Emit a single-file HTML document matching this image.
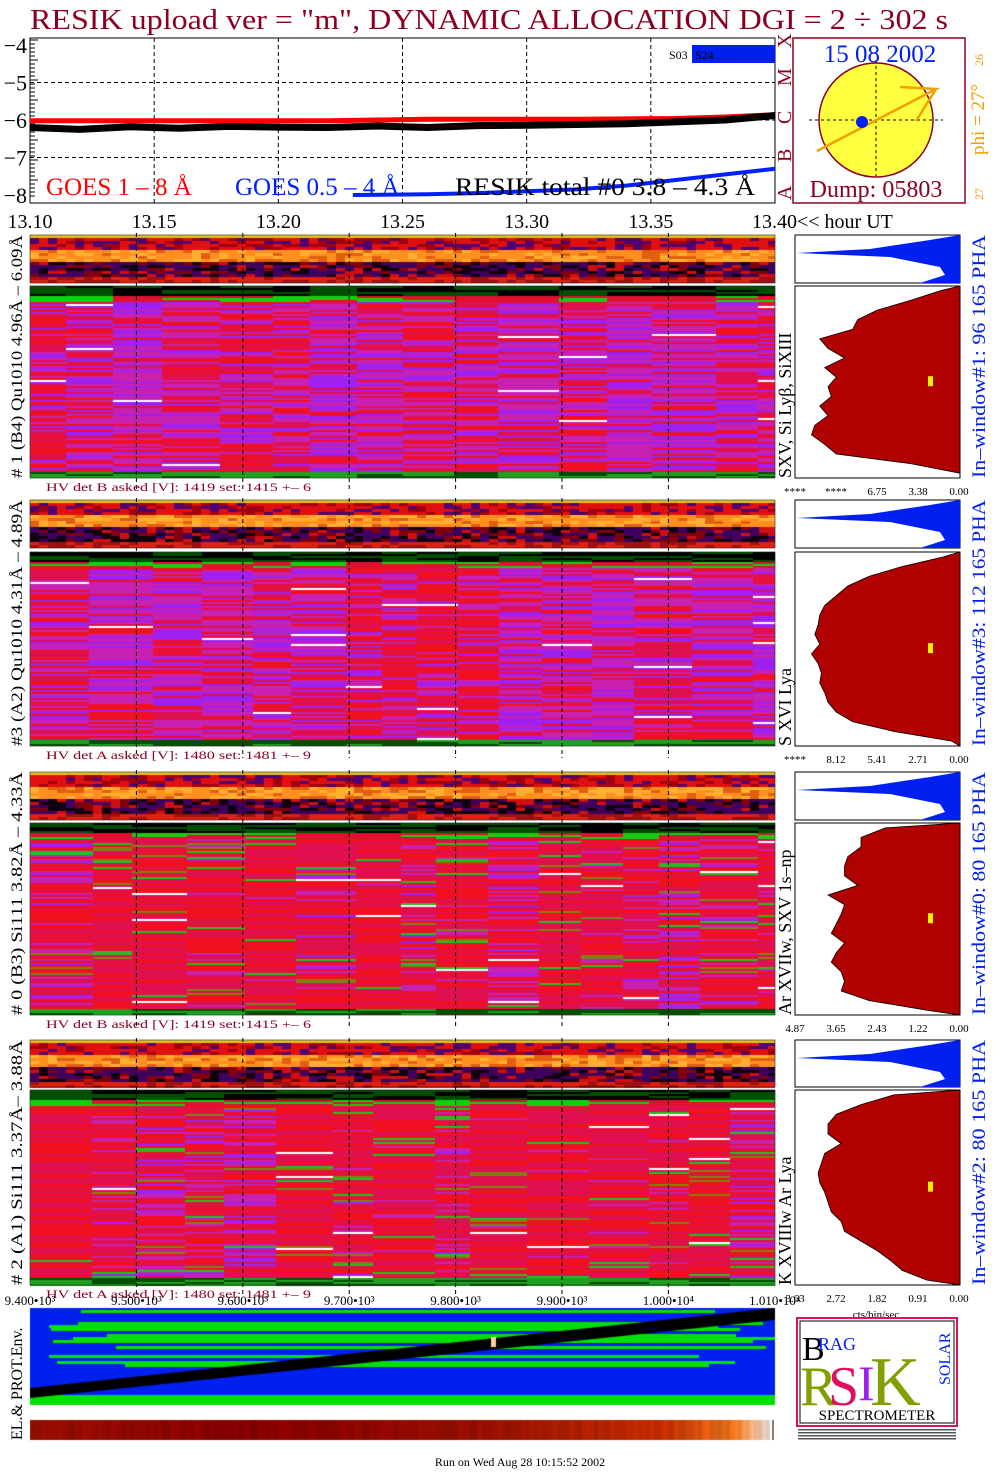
<!DOCTYPE html>
<html><head><meta charset="utf-8"><style>
html,body{margin:0;padding:0;background:#fff;}
#root{position:relative;width:1004px;height:1476px;overflow:hidden;font-family:"Liberation Serif",serif;}
canvas{position:absolute;left:0;top:0;}
svg{position:absolute;left:0;top:0;}
</style></head><body>
<div id="root">
<canvas id="tex" width="1004" height="1476"></canvas>
<svg id="ov" width="1004" height="1476" xmlns="http://www.w3.org/2000/svg"></svg>
</div>
<script>
// ---- chart data ----
const timeTicks = ["13.10","13.15","13.20","13.25","13.30","13.35","13.40"];
const yTicks = [-4,-5,-6,-7,-8];
const goesTimes = [13.10,13.12,13.14,13.16,13.18,13.20,13.22,13.24,13.26,13.28,13.30,13.32,13.34,13.36,13.38,13.40];
const goesLong = [-6.02,-6.02,-6.02,-6.02,-6.02,-6.02,-6.02,-6.0,-5.98,-5.98,-5.98,-5.98,-5.97,-5.96,-5.92,-5.86];
const resikTotal = [-6.2,-6.25,-6.18,-6.22,-6.17,-6.19,-6.2,-6.16,-6.2,-6.15,-6.14,-6.12,-6.1,-6.05,-6.0,-5.88];
const goesShortT = [13.23,13.26,13.28,13.30,13.32,13.34,13.36,13.38,13.40];
const goesShort = [-8.0,-7.98,-7.95,-7.9,-7.85,-7.75,-7.6,-7.45,-7.3];
const energyTicks = ["9.400•10³","9.500•10³","9.600•10³","9.700•10³","9.800•10³","9.900•10³","1.000•10⁴","1.010•10⁴"];
const phaProfiles = [
 [0.12,0.3,0.5,0.62,0.65,0.85,0.8,0.7,0.82,0.75,0.8,0.78,0.85,0.8,0.88,0.9,0.82,0.75,0.3,0.0],
 [0.1,0.35,0.55,0.68,0.75,0.82,0.85,0.86,0.88,0.85,0.9,0.86,0.84,0.85,0.82,0.8,0.75,0.65,0.4,0.05],
 [0.45,0.6,0.6,0.68,0.7,0.7,0.62,0.8,0.7,0.72,0.75,0.78,0.7,0.75,0.78,0.72,0.7,0.72,0.55,0.2],
 [0.4,0.6,0.75,0.8,0.8,0.72,0.82,0.84,0.86,0.85,0.82,0.8,0.78,0.72,0.7,0.6,0.5,0.42,0.35,0.2]
];
const phaTicks = [["****","****","6.75","3.38","0.00"],["****","8.12","5.41","2.71","0.00"],["4.87","3.65","2.43","1.22","0.00"],["3.63","2.72","1.82","0.91","0.00"]];

// ---- geometry ----
const X0=30,X1=775,T0=13.10,T1=13.40;
const xs=t=>X0+(t-T0)/(T1-T0)*(X1-X0);
const ys=v=>45+(-4-v)*37.5;
const panels=[
 {s:[235,283],m:[286,478],hv:"HV det B asked [V]:  1419 set:  1415  +–    6",left:"# 1 (B4) Qu1010 4.96Å – 6.09Å",rl:"SXV, Si Lyβ, SiXIII",win:"In–window#1:   96 165 PHA",red:false},
 {s:[500,548],m:[552,746],hv:"HV det A asked [V]:  1480 set:  1481  +–    9",left:"#3 (A2) Qu1010  4.31Å  – 4.89Å",rl:"S XVI Lya",win:"In–window#3:  112 165 PHA",red:false},
 {s:[772,820],m:[823,1015],hv:"HV det B asked [V]:  1419 set:  1415  +–    6",left:"# 0 (B3) Si111  3.82Å – 4.33Å",rl:"Ar XVIIw,  SXV 1s–np",win:"In–window#0:   80 165 PHA",red:true},
 {s:[1040,1087],m:[1090,1285],hv:"HV det A asked [V]:  1480 set:  1481  +–    9",left:"# 2 (A1) Si111  3.37Å– 3.88Å",rl:"K XVIIIw  Ar Lya",win:"In–window#2:   80 165 PHA",red:true}
];

// ---- textures (decorative, seeded) ----
const c=document.getElementById('tex').getContext('2d');
let seed=12345;const rnd=()=>{seed=(seed*16807)%2147483647;return seed/2147483647;};
function strip(y0,y1){
 const h=y1-y0;
 for(let x=X0;x<X1;x+=9){for(let y=y0;y<y1;y+=3){
  const f=(y-y0)/h;let col;
  const r=rnd();
  if(f<0.05) col='#e0c020';
  else if(f<0.3) col=r<0.5?'#e01010':r<0.75?'#a00010':'#500070';
  else if(f<0.55) col=r<0.5?'#ff9020':r<0.8?'#ffb030':'#e06010';
  else if(f<0.85) col=r<0.4?'#400060':r<0.65?'#100010':r<0.85?'#800010':'#d01010';
  else col=r<0.6?'#e02010':'#a01010';
  c.fillStyle=col;c.fillRect(x,y,Math.min(9,X1-x),3);}}
}
function main(y0,y1,red){
 let x=X0;
 while(x<X1){const w=Math.min(35+Math.floor(rnd()*30),X1-x);
  const mag=red?rnd()*0.4:0.3+rnd()*0.5;
  for(let y=y0;y<y1;y+=2){
   const f=(y-y0)/(y1-y0);let col;const r=rnd();
   if(f<0.05) col=r<0.5?'#000':'#005000';
   else if(f<0.08) col=r<0.5?'#10d010':'#e01030';
   else if(f>0.96) col=r<0.5?'#005000':'#20a020';
   else{
    if(r<0.012) col='#ffffff';
    else if(red&&r<0.07) col=rnd()<0.5?'#20c020':'#808010';
    else if(r<mag*0.45) col='#a020f0';
    else if(r<mag) col='#c820b0';
    else col=rnd()<0.5?'#f01020':'#e01050';
   }
   c.fillStyle=col;c.fillRect(x,y,w,2);}
  x+=w;}
}
panels.forEach(p=>{strip(p.s[0],p.s[1]);main(p.m[0],p.m[1],p.red);});
// EL panel
c.fillStyle='#0020f0';c.fillRect(X0,1308,X1-X0,97);
for(let y=1310;y<1365;y+=3){if(rnd()<0.55){const a=X0+Math.floor(rnd()*100);const b=X1-Math.floor(rnd()*100);c.fillStyle='#00e000';c.fillRect(a,y,b-a,3);}}
c.fillStyle='#00e000';c.fillRect(X0,1395,X1-X0,10);
c.fillStyle='#000';c.beginPath();c.moveTo(X0,1388);c.lineTo(X1,1308);c.lineTo(X1,1320);c.lineTo(X0,1398);c.fill();
c.fillStyle='#ffd0a0';c.fillRect(491,1337,5,10);
const g=c.createLinearGradient(X0,0,773,0);
g.addColorStop(0,'#a01000');g.addColorStop(0.3,'#900000');g.addColorStop(0.6,'#a01000');g.addColorStop(0.85,'#d03000');g.addColorStop(0.95,'#ff8020');g.addColorStop(1,'#fff');
c.fillStyle=g;c.fillRect(X0,1420,743,20);
for(let x=X0;x<770;x+=4){c.fillStyle='rgba(0,0,0,'+(rnd()*0.15)+')';c.fillRect(x,1420,4,20);}

// ---- overlay SVG ----
const NS='http://www.w3.org/2000/svg';const svg=document.getElementById('ov');
function el(tag,attrs,parent,text){const e=document.createElementNS(NS,tag);for(const k in attrs)e.setAttribute(k,attrs[k]);if(text!==undefined)e.textContent=text;(parent||svg).appendChild(e);return e;}
let t;
t=el('text',{x:30,y:29,'font-size':29,fill:'#8b0020',textLength:918,lengthAdjust:'spacingAndGlyphs'},svg,'RESIK upload ver = "m", DYNAMIC ALLOCATION  DGI =   2 ÷ 302 s');

// top chart frame
t=el('rect',{x:X0,y:38,width:X1-X0,height:165,fill:'none',stroke:'#000'});

for(let i=1;i<6;i++){t=el('line',{x1:xs(13.10+0.05*i),x2:xs(13.10+0.05*i),y1:38,y2:203,stroke:'#000','stroke-dasharray':'4,3'});}
yTicks.forEach(v=>{if(v<-4&&v>-8){t=el('line',{x1:X0,x2:X1,y1:ys(v),y2:ys(v),stroke:'#000','stroke-dasharray':'4,3'});}
 t=el('text',{x:27,y:ys(v)+8,'font-size':22,'text-anchor':'end'},svg,'−'+(-v));});
for(let y=40;y<200;y+=4){el('line',{x1:X0,x2:X0+(y%20==0?8:5),y1:y,y2:y,stroke:'#000'});}
function line(tsArr,vals,col,w,name){const pts=vals.map((v,i)=>xs(tsArr[i])+','+ys(v)).join(' ');t=el('polyline',{points:pts,fill:'none',stroke:col,'stroke-width':w});}
line(goesTimes,goesLong,'#ff0000',5,'goes-long-line');
line(goesTimes,resikTotal,'#000',7,'resik-total-line');
line(goesShortT,goesShort,'#0020ff',4,'goes-short-line');
t=el('text',{x:46,y:195,'font-size':25,fill:'#ff0000'},svg,'GOES 1 – 8 Å');
t=el('text',{x:235,y:195,'font-size':25,fill:'#0020ff'},svg,'GOES 0.5 – 4 Å');
t=el('text',{x:455,y:195,'font-size':25,fill:'#000',textLength:300,lengthAdjust:'spacingAndGlyphs'},svg,'RESIK total #0  3.8 – 4.3 Å');
el('rect',{x:692,y:45,width:83,height:18,fill:'#0020f0'});
el('text',{x:669,y:59,'font-size':12,fill:'#000'},svg,'S03');
el('text',{x:695,y:59,'font-size':12,fill:'#000'},svg,'S24');
['A','B','C','M','X'].forEach((L,i)=>{t=el('text',{x:0,y:0,'font-size':20,fill:'#8b0020',transform:`translate(791,${200-i*38}) rotate(-90)`},svg,L);});
timeTicks.forEach((s,i)=>{t=el('text',{x:xs(13.10+0.05*i),y:228,'font-size':20,'text-anchor':i==6?'start':'middle'},svg,s+(i==6?'<< hour UT':''));if(i==6)t.setAttribute('x',752);if(i==0)t.setAttribute('x',30);});
// sun panel
t=el('rect',{x:793,y:38,width:172,height:165,fill:'#fff',stroke:'#8b0020','stroke-width':1.5});
t=el('circle',{cx:876,cy:120,r:57,fill:'#ffff40',stroke:'#8b0020','stroke-width':1.5});
el('line',{x1:809,x2:943,y1:120,y2:120,stroke:'#000','stroke-dasharray':'3,3'});
el('line',{x1:876,x2:876,y1:60,y2:176,stroke:'#000','stroke-dasharray':'3,3'});
t=el('polyline',{points:'817,151 936,89 900,87 936,89 916,121',fill:'none',stroke:'#f0a000','stroke-width':2.5});
t=el('circle',{cx:862,cy:122,r:6,fill:'#0020f0'});
t=el('text',{x:880,y:62,'font-size':25,fill:'#0020f0','text-anchor':'middle'},svg,'15 08 2002');
t=el('text',{x:876,y:197,'font-size':24,fill:'#8b0020','text-anchor':'middle'},svg,'Dump: 05803');
t=el('text',{x:0,y:0,'font-size':19,fill:'#f0a000',transform:'translate(984,155) rotate(-90)'},svg,'phi = 27°');
el('text',{x:0,y:0,'font-size':12,fill:'#f0a000',transform:'translate(983,66) rotate(-90)'},svg,'26');
el('text',{x:0,y:0,'font-size':12,fill:'#f0a000',transform:'translate(983,200) rotate(-90)'},svg,'27');
// spectrogram panels
panels.forEach((p,k)=>{
 t=el('rect',{x:X0,y:p.s[0],width:X1-X0,height:p.s[1]-p.s[0],fill:'none',stroke:'#000','stroke-width':0.5});
 t=el('rect',{x:X0,y:p.m[0],width:X1-X0,height:p.m[1]-p.m[0],fill:'none',stroke:'#000','stroke-width':0.5});
 for(let i=1;i<7;i++){const x=X0+i*106.4;el('line',{x1:x,x2:x,y1:p.s[0]-2,y2:p.m[1]+12,stroke:'#000','stroke-dasharray':'4,3'});}
 t=el('text',{x:46,y:p.m[1]+13,'font-size':12,fill:'#8b0020',textLength:265,lengthAdjust:'spacingAndGlyphs'},svg,p.hv);
 t=el('text',{x:0,y:0,'font-size':16,fill:'#000',transform:`translate(22,${p.m[1]}) rotate(-90)`,textLength:p.m[1]-p.s[0],lengthAdjust:'spacingAndGlyphs'},svg,p.left);
 t=el('text',{x:0,y:0,'font-size':18,fill:'#000',transform:`translate(791,${p.m[1]}) rotate(-90)`},svg,p.rl);
 t=el('text',{x:0,y:0,'font-size':19,fill:'#0020f0',transform:`translate(985,${p.m[1]}) rotate(-90)`,textLength:p.m[1]-p.s[0],lengthAdjust:'spacingAndGlyphs'},svg,p.win);
 const sx0=795,sx1=960,sy0=p.s[0],sy1=p.s[1];
 el('rect',{x:sx0,y:sy0,width:sx1-sx0,height:sy1-sy0,fill:'#fff',stroke:'#000'});
 t=el('polygon',{points:`${sx1},${sy0} ${sx1-30},${sy0+5} ${sx1-90},${sy0+14} ${sx0+2},${sy0+18} ${sx1-70},${sy0+22} ${sx1-20},${sy0+32} ${sx1-15},${sy1-8} ${sx1-40},${sy1} ${sx1},${sy1}`,fill:'#0020f0'});
 const my0=p.m[0],my1=p.m[1],prof=phaProfiles[k];
 el('rect',{x:sx0,y:my0,width:sx1-sx0,height:my1-my0,fill:'#fff',stroke:'#000'});
 let pts=`${sx1},${my0} `;
 prof.forEach((v,i)=>{const y=my0+(i+0.5)/prof.length*(my1-my0);pts+=`${sx1-v*(sx1-sx0)},${y} `;});
 pts+=`${sx1},${my1}`;
 t=el('polygon',{points:pts,fill:'#b00000',stroke:'#000','stroke-width':0.8});
 el('rect',{x:928,y:my0+(my1-my0)*0.47,width:5,height:10,fill:'#ffee00'});
 phaTicks[k].forEach((s,i)=>{t=el('text',{x:795+i*41,y:my1+17,'font-size':11,'text-anchor':'middle'},svg,s);});
});
el('text',{x:876,y:1318,'font-size':11,'text-anchor':'middle'},svg,'cts/bin/sec');
energyTicks.forEach((s,i)=>{t=el('text',{x:X0+i*106.4,y:1305,'font-size':13,'text-anchor':'middle'},svg,s);});
t=el('text',{x:0,y:0,'font-size':16,transform:'translate(22,1440) rotate(-90)'},svg,'EL.& PROT.Env.');
el('line',{x1:773,x2:773,y1:1420,y2:1440,stroke:'#000'});
// logo
const lg=el('g',{});
el('rect',{x:797,y:1318,width:160,height:108,fill:'#fff',stroke:'#e01060','stroke-width':2},lg);
el('rect',{x:800,y:1321,width:154,height:102,fill:'none',stroke:'#000'},lg);
el('text',{x:802,y:1360,'font-size':34,fill:'#000'},lg,'B');
el('text',{x:818,y:1350,'font-size':18,fill:'#0020f0'},lg,'RAG');
el('text',{x:800,y:1405,'font-size':56,fill:'#80a000'},lg,'R');
el('text',{x:828,y:1405,'font-size':56,fill:'#e01060'},lg,'S');
el('text',{x:858,y:1400,'font-size':50,fill:'#a020f0'},lg,'I');
el('text',{x:870,y:1405,'font-size':70,fill:'#80a000'},lg,'K');
el('text',{x:0,y:0,'font-size':16,fill:'#0020f0',transform:'translate(950,1385) rotate(-90)'},lg,'SOLAR');
el('text',{x:877,y:1420,'font-size':15,'text-anchor':'middle'},lg,'SPECTROMETER');
for(let i=0;i<4;i++)el('rect',{x:798,y:1429+i*3,width:158,height:1.5,fill:'#555'},lg);
t=el('text',{x:520,y:1466,'font-size':12,'text-anchor':'middle'},svg,'Run on Wed Aug 28 10:15:52 2002');
</script>
</body></html>
